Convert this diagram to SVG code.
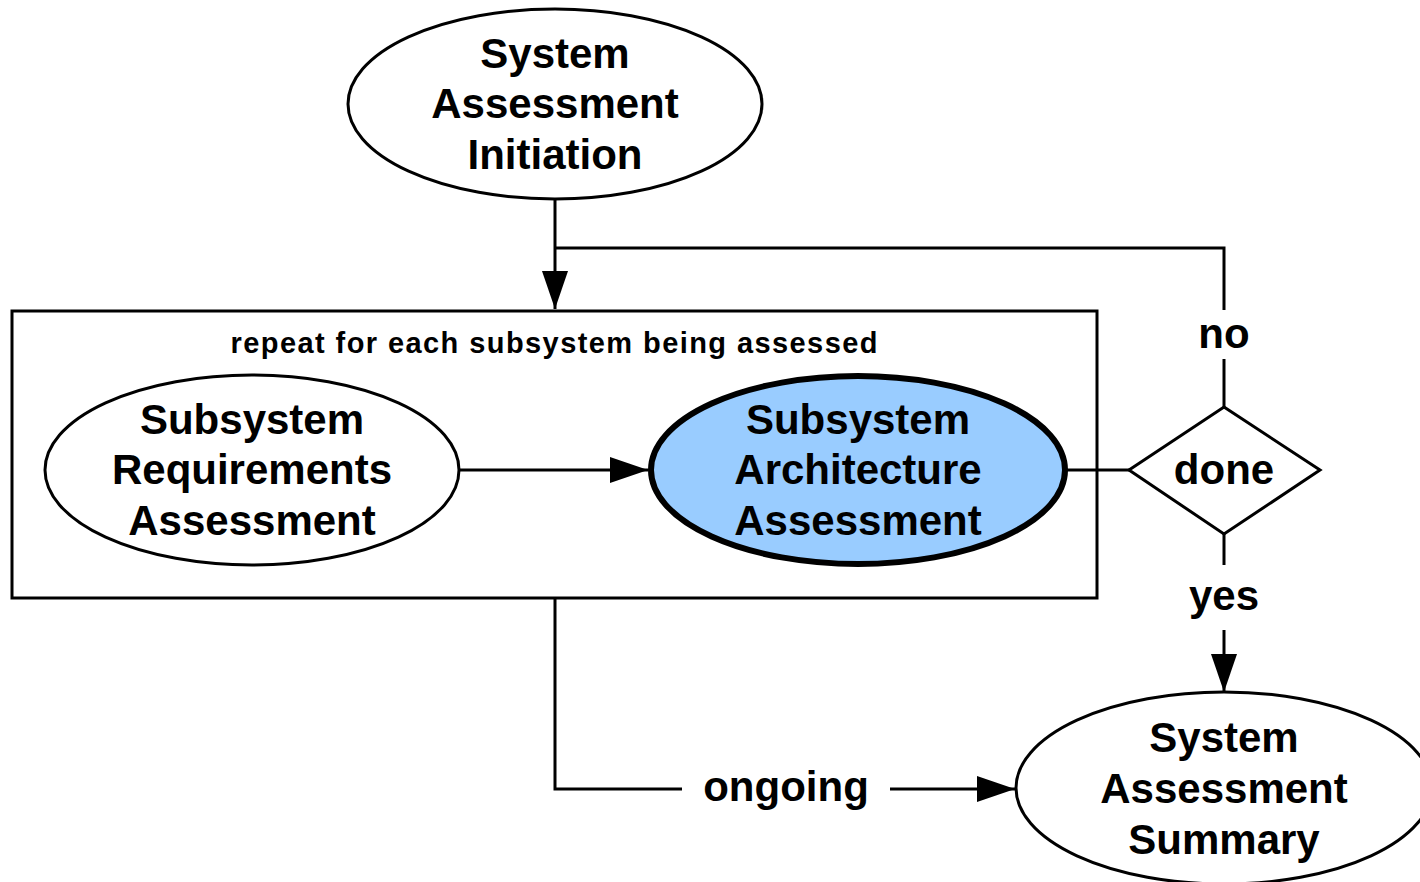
<svg xmlns="http://www.w3.org/2000/svg" width="1420" height="882" viewBox="0 0 1420 882">
<style>
.n{fill:#fff;stroke:#000;stroke-width:3}
.hl{fill:#99ccff;stroke:#000;stroke-width:6}
.t{font-family:"Liberation Sans",Arial,sans-serif;font-weight:bold;font-size:42px;text-anchor:middle;fill:#000}
.s{font-family:"Liberation Sans",Arial,sans-serif;font-weight:bold;font-size:29px;text-anchor:middle;fill:#000}
.c{fill:none;stroke:#000;stroke-width:3}
</style>
<defs>
<marker id="ah" markerUnits="userSpaceOnUse" markerWidth="40" markerHeight="28" refX="38" refY="13" orient="auto">
<path d="M0,0 L38,13 L0,26 Z" fill="#000"/>
</marker>
</defs>
<rect fill="#fff" width="1420" height="882"/>
<g id="loop">
<rect x="12" y="311" width="1085" height="287" fill="none" stroke="#000" stroke-width="3"/>
<text class="s" x="554" y="353" textLength="647" lengthAdjust="spacing">repeat for each subsystem being assessed</text>
</g>
<g id="connectors">
<path class="c" d="M555,199 V309" marker-end="url(#ah)"/>
<path class="c" d="M555,248 H1224 V310"/>
<path class="c" d="M1224,359 V407"/>
<path class="c" d="M459,470 H648" marker-end="url(#ah)"/>
<path class="c" d="M1066,470 H1130"/>
<path class="c" d="M1224,534 V565"/>
<path class="c" d="M1224,630 V692" marker-end="url(#ah)"/>
<path class="c" d="M555,598 V789 H682"/>
<path class="c" d="M890,789 H1015" marker-end="url(#ah)"/>
<text class="t" x="1224" y="348">no</text>
<text class="t" x="1224" y="610">yes</text>
<text class="t" x="786" y="801">ongoing</text>
</g>
<g id="init">
<ellipse class="n" cx="555" cy="104" rx="207" ry="95"/>
<text class="t" x="555" y="68">System</text>
<text class="t" x="555" y="118">Assessment</text>
<text class="t" x="555" y="169">Initiation</text>
</g>
<g id="req">
<ellipse class="n" cx="252" cy="470" rx="207" ry="95"/>
<text class="t" x="252" y="434">Subsystem</text>
<text class="t" x="252" y="484">Requirements</text>
<text class="t" x="252" y="535">Assessment</text>
</g>
<g id="arch">
<ellipse class="hl" cx="858" cy="470" rx="207" ry="94"/>
<text class="t" x="858" y="434">Subsystem</text>
<text class="t" x="858" y="484">Architecture</text>
<text class="t" x="858" y="535">Assessment</text>
</g>
<g id="done">
<polygon class="n" points="1224,407 1320,470 1224,534 1129,470"/>
<text class="t" x="1224" y="484">done</text>
</g>
<g id="summary">
<ellipse class="n" cx="1224" cy="788" rx="208" ry="96"/>
<text class="t" x="1224" y="752">System</text>
<text class="t" x="1224" y="803">Assessment</text>
<text class="t" x="1224" y="854">Summary</text>
</g>
</svg>
